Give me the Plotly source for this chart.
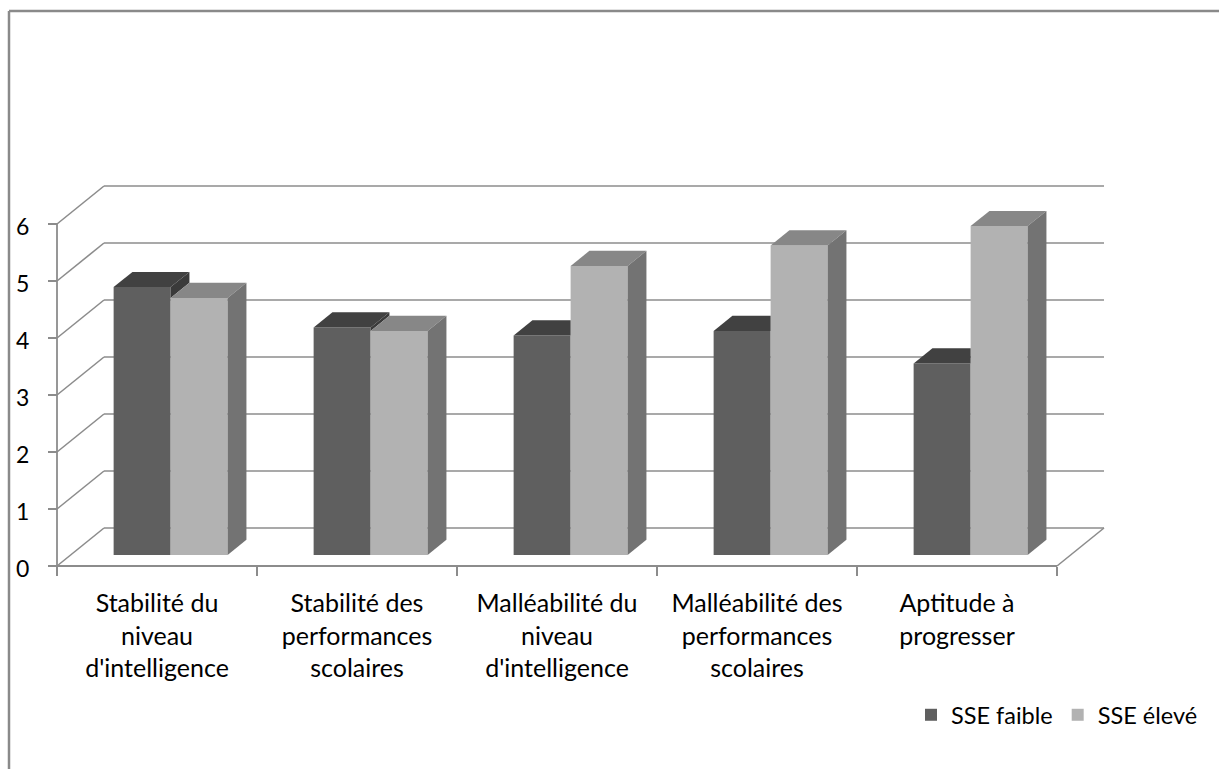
import plotly.graph_objects as go

# ---- data ----
categories = [
    "Stabilité du<br>niveau<br>d'intelligence",
    "Stabilité des<br>performances<br>scolaires",
    "Malléabilité du<br>niveau<br>d'intelligence",
    "Malléabilité des<br>performances<br>scolaires",
    "Aptitude à<br>progresser",
]
sse_faible = [4.70, 3.99, 3.85, 3.93, 3.36]
sse_eleve = [4.51, 3.93, 5.07, 5.43, 5.77]
y_ticks = [0, 1, 2, 3, 4, 5, 6]
series_names = ["SSE faible", "SSE élevé"]

# ---- styling / geometry ----
W, H = 1219, 769
FONT = "Lato"
GRID = "#8c8c8c"
DARK = dict(front="#5f5f5f", top="#414141", side="#3a3a3a")
LIGHT = dict(front="#b2b2b2", top="#878787", side="#737373")

n = len(categories)
DX, DY = 0.235, 38 / 57          # oblique depth of the wall (category units, value units)
F0, F1 = 0.29, 0.69              # bar front / back depth fractions
ox, oy = F0 * DX, F0 * DY
ddx, ddy = (F1 - F0) * DX, (F1 - F0) * DY
BW = 0.285                       # bar width in category units

fig = go.Figure()

shapes = []
def seg(x0, y0, x1, y1, w=1.6):
    shapes.append(dict(type="line", xref="x", yref="y", x0=x0, y0=y0, x1=x1, y1=y1,
                       line=dict(color=GRID, width=w), layer="below"))

for v in y_ticks:
    seg(DX, v + DY, n + DX, v + DY)      # back wall
    seg(0, v, DX, v + DY)                # left wall diagonals
seg(n, 0, n + DX, DY)                    # floor right edge
seg(0, 0, n, 0, 1.8)                     # floor front edge
seg(0, 0, 0, max(y_ticks), 1.8)          # vertical axis line

# outer frame (only left/top visible)
shapes.append(dict(type="line", xref="paper", yref="paper", x0=9 / W, x1=9 / W,
                   y0=-0.05, y1=1 - 11 / H, line=dict(color="#8a8a8a", width=2.5)))
shapes.append(dict(type="line", xref="paper", yref="paper", x0=9 / W, x1=1.05,
                   y0=1 - 11 / H, y1=1 - 11 / H, line=dict(color="#8a8a8a", width=2.5)))

# front faces (bars)
xd = [i + 0.5 + ox - BW / 2 for i in range(n)]
xl = [i + 0.5 + ox + BW / 2 for i in range(n)]
fig.add_trace(go.Bar(x=xd, y=sse_faible, base=oy, width=BW, name=series_names[0],
                     marker=dict(color=DARK["front"], line=dict(width=0))))
fig.add_trace(go.Bar(x=xl, y=sse_eleve, base=oy, width=BW, name=series_names[1],
                     marker=dict(color=LIGHT["front"], line=dict(width=0))))

def poly(xs, ys, color):
    fig.add_trace(go.Scatter(x=xs + [xs[0]], y=ys + [ys[0]], mode="lines", fill="toself",
                             fillcolor=color, line=dict(width=0, color=color),
                             showlegend=False, hoverinfo="skip"))

for i in range(n):
    hd = oy + sse_faible[i]
    hl = oy + sse_eleve[i]
    d0, d1 = xd[i] - BW / 2, xd[i] + BW / 2
    l0, l1 = xl[i] - BW / 2, xl[i] + BW / 2
    if hd >= hl:
        poly([d0, d1, d1 + ddx, d0 + ddx], [hd, hd, hd + ddy, hd + ddy], DARK["top"])
        poly([d1, d1, d1 + ddx, d1 + ddx], [hl, hd, hd + ddy, hl + ddy], DARK["side"])
    else:
        poly([d0, d1, d1, d0 + ddx], [hd, hd, hd + ddy, hd + ddy], DARK["top"])
    poly([l0, l1, l1 + ddx, l0 + ddx], [hl, hl, hl + ddy, hl + ddy], LIGHT["top"])
    poly([l1, l1 + ddx, l1 + ddx, l1], [oy, oy + ddy, hl + ddy, hl], LIGHT["side"])

fig.update_layout(
    width=W, height=H, autosize=False, template="none",
    margin=dict(l=0, r=0, t=0, b=0),
    paper_bgcolor="white", plot_bgcolor="white",
    barmode="overlay", shapes=shapes,
    font=dict(family=FONT, size=24, color="#000000"),
    showlegend=True,
    legend=dict(orientation="h", x=911 / W, y=1 - 715 / H, xanchor="left", yanchor="middle",
                bgcolor="rgba(0,0,0,0)", font=dict(family=FONT, size=23.5, color="#000000"),
                traceorder="normal", itemwidth=30),
    xaxis=dict(range=[-57 / 200, (W - 57) / 200], domain=[0, 1], anchor="free",
               position=(H - 566) / H, showgrid=False, zeroline=False, showline=False,
               tickmode="array", tickvals=[i + 0.5 for i in range(n)], ticktext=categories,
               ticks="", ticklabelstandoff=20, automargin=False,
               tickfont=dict(family=FONT, size=25, color="#000000"),
               minor=dict(tickmode="array", tickvals=list(range(n + 1)), ticks="outside",
                          ticklen=9, tickwidth=1.5, tickcolor=GRID, showgrid=False)),
    yaxis=dict(range=[(566 - H) / 57, 566 / 57], domain=[0, 1], anchor="free",
               position=57 / W, showgrid=False, zeroline=False, showline=False,
               tickmode="array", tickvals=y_ticks, ticktext=[str(v) for v in y_ticks],
               ticks="outside", ticklen=9, tickwidth=1.5, tickcolor=GRID,
               ticklabelstandoff=14, ticklabelshift=3, automargin=False,
               tickfont=dict(family=FONT, size=23, color="#000000")),
)

fig.write_html("out.html", config={"displayModeBar": False},
               post_script="document.body.style.margin='0px';")
